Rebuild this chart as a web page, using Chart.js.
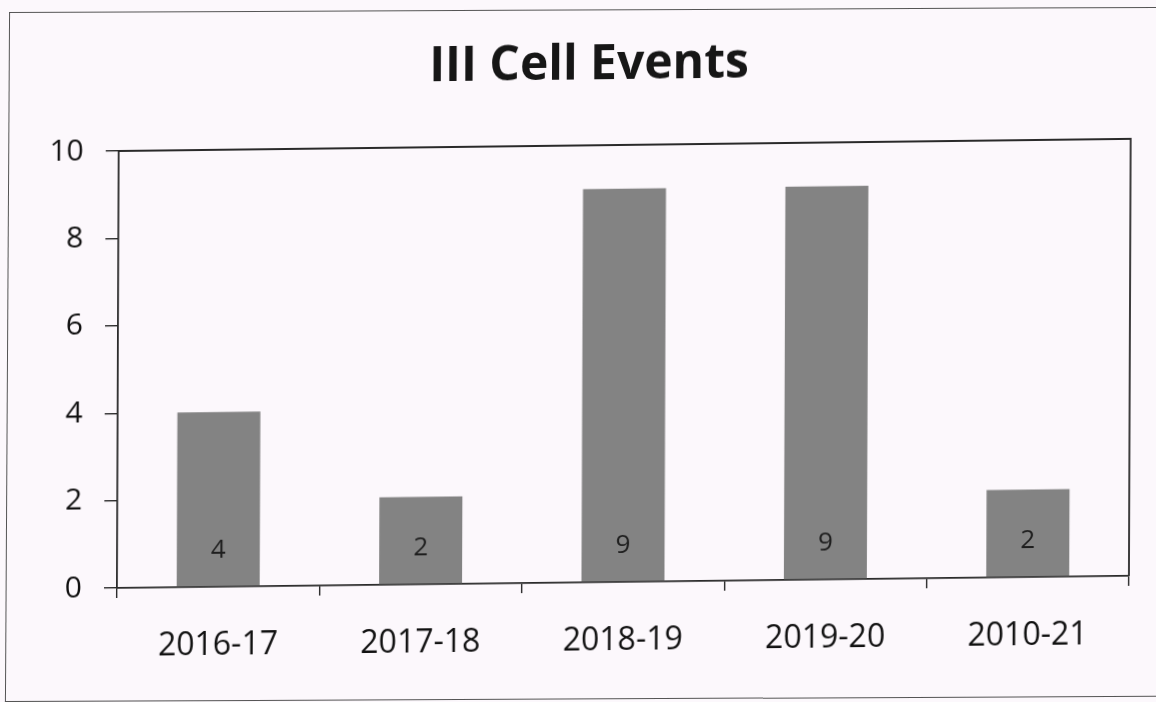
<!DOCTYPE html>
<html>
<head>
<meta charset="utf-8">
<title>III Cell Events</title>
<script src="https://cdn.jsdelivr.net/npm/chart.js@4"></script>
<style>
  html, body { margin: 0; padding: 0; background: #fcf8fc; overflow: hidden; }
  #page { position: relative; width: 1156px; height: 702px; }
  #frame {
    position: absolute; left: 9px; top: 12px; width: 1180px; height: 688px;
    border-left: 1.5px solid #555; border-top: 1.5px solid #555; border-bottom: 1.5px solid #555;
    transform-origin: 9px 12px; transform: matrix(1, -0.0045, -0.006, 1, 0, 0);
  }
  #sheet {
    position: absolute; left: 0; top: 0; width: 1156px; height: 702px;
    transform-origin: 117px 588px; transform: matrix(1, -0.012, -0.004, 1, 0, 0);
  }
</style>
</head>
<body>
<div id="page">
  <div id="frame"></div>
  <div id="sheet"><canvas id="chart" width="1156" height="702"></canvas></div>
</div>
<script>
const categories = ['2016-17', '2017-18', '2018-19', '2019-20', '2010-21'];
const events = [4, 2, 9, 9, 2];
const yTicks = [0, 2, 4, 6, 8, 10];

const FONT = "'Open Sans', 'Liberation Sans', sans-serif";
const INK = '#111111';
const AXIS = '#2a2a2a';

// Closes the plot area with top and right edges
const plotFrame = {
  id: 'plotFrame',
  afterDraw(chart) {
    const { ctx, chartArea: a } = chart;
    ctx.save();
    ctx.strokeStyle = AXIS;
    ctx.lineWidth = 1.8;
    ctx.beginPath();
    ctx.moveTo(a.left, a.top);
    ctx.lineTo(a.right, a.top);
    ctx.lineTo(a.right, a.bottom);
    ctx.stroke();
    ctx.restore();
  }
};

// Writes each value inside its bar, near the base
const valueLabels = {
  id: 'valueLabels',
  afterDatasetsDraw(chart) {
    const { ctx } = chart;
    const yScale = chart.scales.y;
    const meta = chart.getDatasetMeta(0);
    ctx.save();
    ctx.font = '26px ' + FONT;
    ctx.fillStyle = '#1e1e1e';
    ctx.textAlign = 'center';
    ctx.textBaseline = 'middle';
    meta.data.forEach((bar, i) => {
      ctx.fillText(String(events[i]), bar.x, yScale.getPixelForValue(0) - 36);
    });
    ctx.restore();
  }
};

new Chart(document.getElementById('chart'), {
  type: 'bar',
  data: {
    labels: categories,
    datasets: [{
      data: events,
      backgroundColor: '#838383',
      borderWidth: 0,
      categoryPercentage: 1,
      barPercentage: 0.41
    }]
  },
  options: {
    responsive: false,
    animation: false,
    layout: { padding: { left: 45, right: 27, top: 0, bottom: 0 } },
    plugins: {
      legend: { display: false },
      tooltip: { enabled: false },
      title: {
        display: true,
        text: 'III Cell Events',
        color: '#161616',
        font: { family: FONT, size: 48, weight: 'bold', lineHeight: 1.2 },
        padding: { top: 43, bottom: 50.4 }
      }
    },
    scales: {
      x: {
        offset: true,
        grid: { display: true, drawOnChartArea: false, drawTicks: true, tickLength: 10, color: AXIS, lineWidth: 1.4, offset: true },
        border: { display: true, color: AXIS, width: 1.8 },
        ticks: { color: INK, font: { family: FONT, size: 32, lineHeight: 1.2 }, padding: 30, maxRotation: 0, autoSkip: false },
        afterFit(scale) { scale.height = 114; }
      },
      y: {
        min: 0,
        max: 10,
        afterBuildTicks(scale) { scale.ticks = yTicks.map(v => ({ value: v })); },
        grid: { display: true, drawOnChartArea: false, drawTicks: true, tickLength: 13, color: AXIS, lineWidth: 1.4 },
        border: { display: true, color: AXIS, width: 1.8 },
        ticks: { color: INK, font: { family: FONT, size: 30 }, padding: 22 },
        afterFit(scale) { scale.width = 72; }
      }
    }
  },
  plugins: [plotFrame, valueLabels]
});
</script>
</body>
</html>
